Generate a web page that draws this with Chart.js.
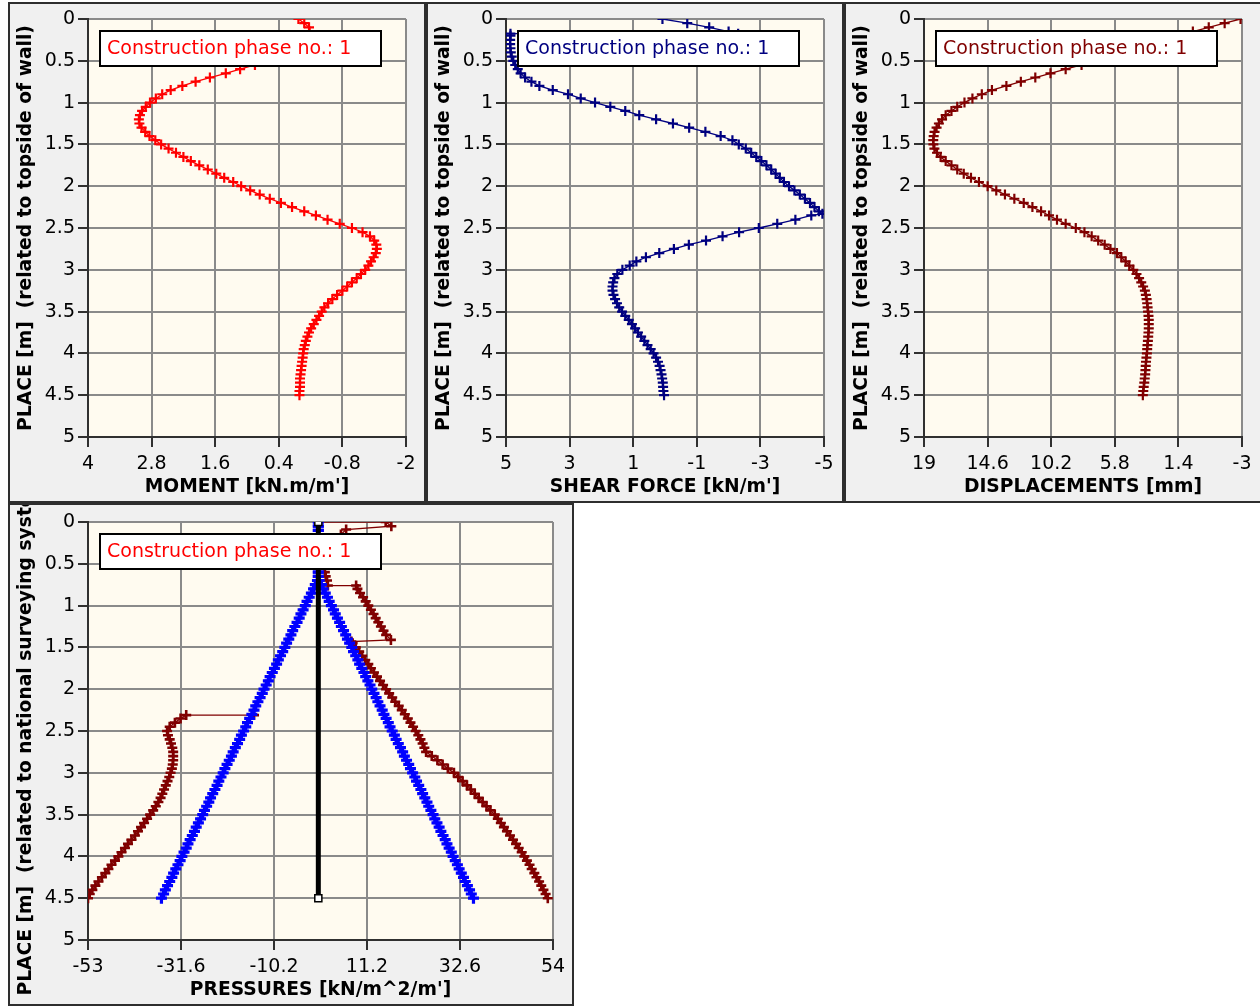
<!DOCTYPE html>
<html>
<head>
<meta charset="utf-8">
<script src="https://cdn.jsdelivr.net/npm/chart.js@4"></script>
<style>
  body { margin: 0; background: #fff; overflow: hidden; width: 1260px; height: 1006px; position: relative; }
  .frame { position: absolute; box-sizing: border-box; border: 2px solid #2e2e2e; background: #f0f0f0; overflow: hidden; }
  .frame canvas { position: absolute; left: 0; top: 0; }
</style>
</head>
<body>
<div class="frame" style="left:8px; top:2px; width:418px; height:501px;"><canvas id="momentChart" width="414" height="497"></canvas></div>
<div class="frame" style="left:426px; top:2px; width:418px; height:501px;"><canvas id="shearChart" width="414" height="497"></canvas></div>
<div class="frame" style="left:844px; top:2px; width:418px; height:501px;"><canvas id="dispChart" width="414" height="497"></canvas></div>
<div class="frame" style="left:8px; top:503px; width:566px; height:503px;"><canvas id="pressChart" width="562" height="499"></canvas></div>

<script>
// depth below top of wall [m], shared by most series
var depths = [0, 0.05, 0.1, 0.15, 0.2, 0.25, 0.3, 0.35, 0.4, 0.45, 0.5, 0.55, 0.6, 0.65, 0.7, 0.75, 0.8, 0.85, 0.9, 0.95,
  1, 1.05, 1.1, 1.15, 1.2, 1.25, 1.3, 1.35, 1.4, 1.45, 1.5, 1.55, 1.6, 1.65, 1.7, 1.75, 1.8, 1.85, 1.9, 1.95,
  2, 2.05, 2.1, 2.15, 2.2, 2.25, 2.3, 2.35, 2.4, 2.45, 2.5, 2.55, 2.6, 2.65, 2.7, 2.75, 2.8, 2.85, 2.9, 2.95,
  3, 3.05, 3.1, 3.15, 3.2, 3.25, 3.3, 3.35, 3.4, 3.45, 3.5, 3.55, 3.6, 3.65, 3.7, 3.75, 3.8, 3.85, 3.9, 3.95,
  4, 4.05, 4.1, 4.15, 4.2, 4.25, 4.3, 4.35, 4.4, 4.45, 4.5];

// MOMENT [kN.m/m']
var momentValues = [0.03, -0.08, -0.17, -0.18, -0.15, -0.08, 0.00, 0.10, 0.23, 0.38,
  0.58, 0.85, 1.13, 1.40, 1.70, 1.97, 2.22, 2.44, 2.60, 2.72,
  2.83, 2.91, 2.98, 3.02, 3.04, 3.03, 2.99, 2.92, 2.84, 2.73,
  2.62, 2.48, 2.34, 2.20, 2.06, 1.90, 1.74, 1.58, 1.43, 1.26,
  1.11, 0.94, 0.76, 0.57, 0.36, 0.15, -0.08, -0.30, -0.52, -0.75,
  -0.98, -1.18, -1.32, -1.40, -1.44, -1.45, -1.43, -1.39, -1.34, -1.29,
  -1.23, -1.15, -1.07, -0.98, -0.89, -0.80, -0.70, -0.61, -0.53, -0.46,
  -0.41, -0.36, -0.31, -0.26, -0.21, -0.17, -0.14, -0.11, -0.09, -0.07,
  -0.06, -0.05, -0.04, -0.03, -0.02, -0.01, 0.00, 0.00, 0.00, 0.01, 0.01];

// SHEAR FORCE [kN/m'] (jump at the anchor, kink at excavation level)
var shearDepths = [0, 0.05, 0.1, 0.15, 0.175, 0.175, 0.2, 0.25, 0.3, 0.35, 0.4, 0.45, 0.5, 0.55, 0.6, 0.65, 0.7, 0.75, 0.8, 0.85, 0.9, 0.95,
  1, 1.05, 1.1, 1.15, 1.2, 1.25, 1.3, 1.35, 1.4, 1.45, 1.5, 1.55, 1.6, 1.65, 1.7, 1.75, 1.8, 1.85, 1.9, 1.95,
  2, 2.05, 2.1, 2.15, 2.2, 2.25, 2.3, 2.33, 2.35, 2.4, 2.45, 2.5, 2.55, 2.6, 2.65, 2.7, 2.75, 2.8, 2.85, 2.9, 2.95,
  3, 3.05, 3.1, 3.15, 3.2, 3.25, 3.3, 3.35, 3.4, 3.45, 3.5, 3.55, 3.6, 3.65, 3.7, 3.75, 3.8, 3.85, 3.9, 3.95,
  4, 4.05, 4.1, 4.15, 4.2, 4.25, 4.3, 4.35, 4.4, 4.45, 4.5];
var shearValues = [0.08, -0.70, -1.39, -2.00, -2.30, 4.86, 4.86, 4.87, 4.87, 4.86, 4.85, 4.82, 4.77, 4.71, 4.63, 4.54, 4.40, 4.20, 3.95, 3.53, 3.05, 2.65,
  2.20, 1.72, 1.25, 0.81, 0.28, -0.25, -0.76, -1.27, -1.75, -2.12, -2.32, -2.54, -2.71, -2.87, -3.03, -3.19, -3.34, -3.48, -3.61, -3.74,
  -3.90, -4.07, -4.24, -4.40, -4.56, -4.70, -4.84, -4.95, -4.60, -4.10, -3.53, -2.95, -2.33, -1.81, -1.29, -0.75, -0.28, 0.18, 0.60, 0.90, 1.11,
  1.34, 1.50, 1.59, 1.63, 1.65, 1.65, 1.62, 1.57, 1.51, 1.44, 1.35, 1.25, 1.14, 1.04, 0.94, 0.85, 0.75, 0.65, 0.55, 0.45,
  0.36, 0.28, 0.22, 0.17, 0.14, 0.11, 0.09, 0.07, 0.06, 0.05, 0.03];

// DISPLACEMENTS [mm]
var dispValues = [-2.9, -1.8, -0.7, 0.4, 1.5, 2.6, 3.6, 4.6, 5.6, 6.5,
  7.3, 8.1, 9.2, 10.25, 11.3, 12.3, 13.3, 14.3, 15.0, 15.65,
  16.2, 16.7, 17.1, 17.5, 17.75, 17.97, 18.13, 18.27, 18.33, 18.36,
  18.35, 18.28, 18.1, 17.85, 17.5, 17.1, 16.7, 16.25, 15.75, 15.2,
  14.6, 14.0, 13.4, 12.75, 12.1, 11.5, 10.9, 10.35, 9.8, 9.2,
  8.5, 7.9, 7.4, 6.95, 6.5, 6.1, 5.65, 5.35, 5.05, 4.8,
  4.52, 4.3, 4.12, 3.97, 3.84, 3.72, 3.65, 3.6, 3.56, 3.53,
  3.5, 3.47, 3.45, 3.45, 3.45, 3.47, 3.49, 3.51, 3.54, 3.56,
  3.58, 3.61, 3.64, 3.66, 3.68, 3.7, 3.73, 3.76, 3.8, 3.83, 3.86];

// PRESSURES [kN/m^2/m'] - right side (maroon)
var activeDepths = [0, 0, 0.05, 0.09, 0.15, 0.2, 0.3, 0.4, 0.5, 0.55, 0.6, 0.65, 0.7, 0.76, 0.76, 0.8, 0.85, 0.9, 0.95,
  1, 1.05, 1.1, 1.15, 1.2, 1.25, 1.3, 1.35, 1.41, 1.43, 1.45, 1.5, 1.55, 1.6, 1.65, 1.7, 1.75, 1.8, 1.85, 1.9, 1.95,
  2, 2.05, 2.1, 2.15, 2.2, 2.25, 2.3, 2.35, 2.4, 2.45, 2.5, 2.55, 2.6, 2.65, 2.7, 2.75, 2.8, 2.85, 2.9, 2.95,
  3, 3.05, 3.1, 3.15, 3.2, 3.25, 3.3, 3.35, 3.4, 3.45, 3.5, 3.55, 3.6, 3.65, 3.7, 3.75, 3.8, 3.85, 3.9, 3.95,
  4, 4.05, 4.1, 4.15, 4.2, 4.25, 4.3, 4.35, 4.4, 4.45, 4.5];
var activeValues = [0, 15.5, 16.8, 6.4, 5.2, 4.5, 3.4, 2.5, 1.8, 1.5, 1.5, 1.7, 2.0, 2.2, 8.7, 9.0, 9.6, 10.3, 10.9,
  11.5, 12.1, 12.7, 13.2, 13.8, 14.4, 15.0, 15.6, 16.7, 7.6, 7.9, 8.6, 9.4, 10.1, 10.8, 11.5, 12.1, 12.8, 13.5, 14.2, 14.9,
  15.6, 16.3, 17.0, 17.7, 18.5, 19.2, 19.9, 20.6, 21.2, 21.8, 22.4, 23.0, 23.5, 24.0, 24.4, 24.8, 26.1, 27.4, 28.6, 29.8,
  31.2, 32.2, 33.2, 34.2, 35.1, 36.0, 36.9, 37.8, 38.7, 39.6, 40.6, 41.3, 42.0, 42.7, 43.4, 44.1, 44.8, 45.5, 46.1, 46.8,
  47.4, 48.0, 48.6, 49.1, 49.7, 50.2, 50.8, 51.3, 51.8, 52.3, 52.8];

// PRESSURES - left side below excavation (maroon)
var passiveDepths = [2.31, 2.31, 2.35, 2.4, 2.45, 2.5, 2.55, 2.6, 2.65, 2.7, 2.75, 2.8, 2.85, 2.9, 2.95,
  3, 3.05, 3.1, 3.15, 3.2, 3.25, 3.3, 3.35, 3.4, 3.45, 3.5, 3.55, 3.6, 3.65, 3.7, 3.75, 3.8, 3.85, 3.9, 3.95,
  4, 4.05, 4.1, 4.15, 4.2, 4.25, 4.3, 4.35, 4.4, 4.45, 4.5];
var passiveValues = [-14.8, -30.4, -31.7, -33.0, -34.2, -34.8, -34.6, -34.2, -33.9, -33.6, -33.4, -33.4, -33.4, -33.5, -33.7,
  -34.0, -34.3, -34.7, -35.1, -35.5, -35.9, -36.3, -36.8, -37.4, -38.0, -38.7, -39.4, -40.1, -40.8, -41.5, -42.2, -43.0, -43.8, -44.5, -45.3,
  -46.0, -46.8, -47.6, -48.3, -49.0, -49.8, -50.6, -51.3, -52.0, -52.6, -53.0];

// PRESSURES - blue lines, on depths[]
var blueLeftValues = [0, 0, 0, 0, 0, 0, 0, 0, 0, 0, 0, 0, 0, 0, -0.2, -0.7, -1.1, -1.6, -2.1, -2.6,
  -3.0, -3.5, -4.0, -4.4, -4.9, -5.4, -5.9, -6.3, -6.8, -7.3, -7.7, -8.2, -8.7, -9.2, -9.6, -10.1, -10.6, -11.1, -11.5, -12.0,
  -12.5, -12.9, -13.4, -13.9, -14.4, -14.8, -15.3, -15.8, -16.3, -16.7, -17.2, -17.7, -18.1, -18.6, -19.1, -19.6, -20.0, -20.5, -21.0, -21.5,
  -21.9, -22.4, -22.9, -23.3, -23.8, -24.3, -24.8, -25.2, -25.7, -26.2, -26.6, -27.1, -27.6, -28.1, -28.5, -29.0, -29.5, -30.0, -30.4, -30.9,
  -31.4, -31.8, -32.3, -32.8, -33.3, -33.7, -34.2, -34.7, -35.2, -35.6, -36.1];
var blueRightValues = [0, 0, 0, 0, 0, 0, 0, 0, 0, 0, 0, 0, 0, 0, 0.2, 0.7, 1.1, 1.6, 2.1, 2.5,
  3.0, 3.5, 3.9, 4.4, 4.9, 5.3, 5.8, 6.3, 6.7, 7.2, 7.7, 8.1, 8.6, 9.1, 9.5, 10.0, 10.5, 10.9, 11.4, 11.9,
  12.3, 12.8, 13.3, 13.7, 14.2, 14.7, 15.1, 15.6, 16.1, 16.5, 17.0, 17.5, 17.9, 18.4, 18.9, 19.4, 19.8, 20.3, 20.8, 21.2,
  21.7, 22.2, 22.6, 23.1, 23.6, 24.0, 24.5, 25.0, 25.4, 25.9, 26.4, 26.8, 27.3, 27.8, 28.2, 28.7, 29.2, 29.6, 30.1, 30.6,
  31.0, 31.5, 32.0, 32.4, 32.9, 33.4, 33.8, 34.3, 34.8, 35.2, 35.7];

// the wall itself
var wallDepths = [0, 4.5];
var wallValues = [0, 0];

// tick labels
var placeTicks = [0, 0.5, 1, 1.5, 2, 2.5, 3, 3.5, 4, 4.5, 5];
var momentTicks = [4, 2.8, 1.6, 0.4, -0.8, -2];
var shearTicks = [5, 3, 1, -1, -3, -5];
var dispTicks = [19, 14.6, 10.2, 5.8, 1.4, -3];
var pressTicks = [-53, -31.6, -10.2, 11.2, 32.6, 54];

var phaseLabel = "Construction phase no.: 1";

Chart.defaults.font.family = "DejaVu Sans";

var tickFont = { family: "DejaVu Sans", size: 19 };
var titleFont = { family: "DejaVu Sans", size: 18.7, weight: "bold" };

// cream plot area
var plotBack = {
  id: "plotBack",
  beforeDraw: function (chart) {
    var a = chart.chartArea;
    chart.ctx.save();
    chart.ctx.fillStyle = "#fffbf0";
    chart.ctx.fillRect(a.left, a.top, a.right - a.left, a.bottom - a.top);
    chart.ctx.restore();
  }
};

// rotated y title, drawn by hand so it is not squeezed to the axis height
var sideTitle = {
  id: "sideTitle",
  afterDraw: function (chart, args, opts) {
    var ctx = chart.ctx;
    var a = chart.chartArea;
    ctx.save();
    ctx.font = "bold 18.7px 'DejaVu Sans'";
    ctx.fillStyle = "#000";
    ctx.textAlign = "center";
    ctx.textBaseline = "middle";
    ctx.translate(opts.x, (a.top + a.bottom) / 2);
    ctx.rotate(-Math.PI / 2);
    ctx.fillText(opts.text, 0, 0);
    ctx.restore();
  }
};

// the "Construction phase" box in the upper left corner
var phaseBox = {
  id: "phaseBox",
  afterDatasetsDraw: function (chart, args, opts) {
    var ctx = chart.ctx;
    var a = chart.chartArea;
    var x = a.left + 12, y = a.top + 12, w = 281, h = 35;
    ctx.save();
    ctx.fillStyle = "#fff";
    ctx.fillRect(x, y, w, h);
    ctx.strokeStyle = "#000";
    ctx.lineWidth = 2;
    ctx.strokeRect(x, y, w, h);
    ctx.font = "19px 'DejaVu Sans'";
    ctx.fillStyle = opts.color;
    ctx.textBaseline = "middle";
    ctx.fillText(opts.text, x + 7, y + h / 2 + 1);
    ctx.restore();
  }
};

function points(depthList, valueList) {
  return valueList.map(function (v, i) { return { x: v, y: depthList[i] }; });
}

function crossSeries(depthList, valueList, color, size, weight) {
  return {
    data: points(depthList, valueList),
    showLine: true,
    borderColor: color,
    borderWidth: 1.3,
    pointStyle: "cross",
    pointRadius: size || 5,
    pointHoverRadius: size || 5,
    pointBorderWidth: weight || 2.2,
    pointBorderColor: color,
    pointBackgroundColor: color
  };
}

function axisGrid() {
  return { color: "#8a8a8a", lineWidth: 2, tickColor: "#303030", tickLength: 10, tickWidth: 2 };
}

function makeChart(id, p) {
  return new Chart(document.getElementById(id), {
    type: "scatter",
    data: { datasets: p.datasets },
    options: {
      responsive: false,
      animation: false,
      devicePixelRatio: 1,
      events: [],
      layout: { autoPadding: false, padding: { left: 0, top: p.padTop, right: p.padRight, bottom: 0 } },
      plugins: {
        legend: { display: false },
        tooltip: { enabled: false },
        sideTitle: { text: p.yTitle, x: 16 },
        phaseBox: { text: phaseLabel, color: p.boxColor }
      },
      scales: {
        x: {
          type: "linear",
          min: p.xMin,
          max: p.xMax,
          reverse: p.reverse,
          afterBuildTicks: function (axis) { axis.ticks = p.xTicks.map(function (v) { return { value: v }; }); },
          afterFit: function (axis) { axis.height = 64; axis.paddingLeft = 0; axis.paddingRight = 0; },
          ticks: { autoSkip: false, maxRotation: 0, padding: 6, color: "#000", font: tickFont,
                   callback: function (v) { return String(+v.toFixed(2)); } },
          grid: axisGrid(),
          border: { color: "#303030", width: 2 },
          title: { display: true, text: p.xTitle, color: "#000", font: titleFont, padding: { top: 0, bottom: 3 } }
        },
        y: {
          type: "linear",
          min: 0,
          max: 5,
          reverse: true,
          afterBuildTicks: function (axis) { axis.ticks = placeTicks.map(function (v) { return { value: v }; }); },
          afterFit: function (axis) { axis.width = 78; axis.paddingTop = 0; axis.paddingBottom = 0; },
          ticks: { autoSkip: false, padding: 3, color: "#000", font: tickFont,
                   callback: function (v) { return String(v); } },
          grid: axisGrid(),
          border: { color: "#303030", width: 2 }
        }
      }
    },
    plugins: [plotBack, sideTitle, phaseBox]
  });
}

var wallTitle = "PLACE [m]  (related to topside of wall)";

makeChart("momentChart", {
  datasets: [crossSeries(depths, momentValues, "#ff0000")],
  xMin: -2, xMax: 4, reverse: true, xTicks: momentTicks,
  xTitle: "MOMENT [kN.m/m']", yTitle: wallTitle, boxColor: "#ff0000",
  padTop: 15, padRight: 18
});

makeChart("shearChart", {
  datasets: [crossSeries(shearDepths, shearValues, "#000080")],
  xMin: -5, xMax: 5, reverse: true, xTicks: shearTicks,
  xTitle: "SHEAR FORCE [kN/m']", yTitle: wallTitle, boxColor: "#000080",
  padTop: 15, padRight: 18
});

makeChart("dispChart", {
  datasets: [crossSeries(depths, dispValues, "#800000")],
  xMin: -3, xMax: 19, reverse: true, xTicks: dispTicks,
  xTitle: "DISPLACEMENTS [mm]", yTitle: wallTitle, boxColor: "#800000",
  padTop: 15, padRight: 18
});

var wall = {
  data: points(wallDepths, wallValues),
  showLine: true,
  borderColor: "#000",
  borderWidth: 5,
  pointStyle: "rect",
  pointRadius: 5,
  pointHoverRadius: 5,
  pointBackgroundColor: "#fff",
  pointBorderColor: "#000",
  pointBorderWidth: 1.5
};

makeChart("pressChart", {
  // first dataset is drawn on top
  datasets: [
    wall,
    crossSeries(depths, blueLeftValues, "#0000ff", 5.5, 3.2),
    crossSeries(depths, blueRightValues, "#0000ff", 5.5, 3.2),
    crossSeries(activeDepths, activeValues, "#800000", 5, 2.6),
    crossSeries(passiveDepths, passiveValues, "#800000", 5, 2.6)
  ],
  xMin: -53, xMax: 54, reverse: false, xTicks: pressTicks,
  xTitle: "PRESSURES [kN/m^2/m']", yTitle: "PLACE [m]  (related to national surveying system)", boxColor: "#ff0000",
  padTop: 17, padRight: 19
});
</script>
</body>
</html>
